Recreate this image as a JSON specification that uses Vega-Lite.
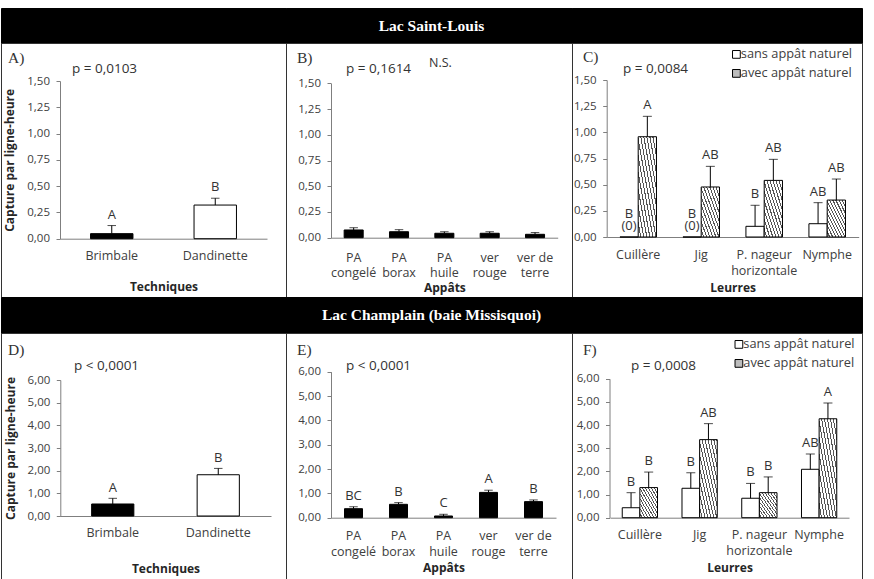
{
  "$schema": "https://vega.github.io/schema/vega-lite/v6.json",
  "padding": {"left": 0, "top": 7, "right": 0, "bottom": 0},
  "background": "white",
  "columns": 3,
  "spacing": 0,
  "bounds": "flush",
  "resolve": {"scale": {"fill": "independent", "xOffset": "independent"}, "legend": {"fill": "independent"}},
  "datasets": {
    "A": [
      {"cat": "Brimbale", "val": 0.048, "err": 0.125, "let": "A"},
      {"cat": "Dandinette", "val": 0.32, "err": 0.385, "let": "B"}
    ],
    "B": [
      {"cat": "PA congelé", "val": 0.075, "err": 0.097},
      {"cat": "PA borax", "val": 0.058, "err": 0.078},
      {"cat": "PA huile", "val": 0.043, "err": 0.058},
      {"cat": "ver rouge", "val": 0.043, "err": 0.058},
      {"cat": "ver de terre", "val": 0.033, "err": 0.05}
    ],
    "C": [
      {"cat": "Cuillère", "grp": "sans appât naturel", "val": 0, "err": 0, "let": ["(0)", "B"]},
      {"cat": "Cuillère", "grp": "avec appât naturel", "val": 0.958, "err": 1.153, "let": "A"},
      {"cat": "Jig", "grp": "sans appât naturel", "val": 0, "err": 0, "let": ["(0)", "B"]},
      {"cat": "Jig", "grp": "avec appât naturel", "val": 0.478, "err": 0.675, "let": "AB"},
      {"cat": "P. nageur horizontale", "grp": "sans appât naturel", "val": 0.102, "err": 0.303, "let": "B"},
      {"cat": "P. nageur horizontale", "grp": "avec appât naturel", "val": 0.541, "err": 0.742, "let": "AB"},
      {"cat": "Nymphe", "grp": "sans appât naturel", "val": 0.127, "err": 0.328, "let": "AB"},
      {"cat": "Nymphe", "grp": "avec appât naturel", "val": 0.353, "err": 0.554, "let": "AB"}
    ],
    "D": [
      {"cat": "Brimbale", "val": 0.53, "err": 0.78, "let": "A"},
      {"cat": "Dandinette", "val": 1.82, "err": 2.1, "let": "B"}
    ],
    "E": [
      {"cat": "PA congelé", "val": 0.37, "err": 0.45, "let": "BC"},
      {"cat": "PA borax", "val": 0.55, "err": 0.62, "let": "B"},
      {"cat": "PA huile", "val": 0.07, "err": 0.14, "let": "C"},
      {"cat": "ver rouge", "val": 1.04, "err": 1.13, "let": "A"},
      {"cat": "ver de terre", "val": 0.66, "err": 0.73, "let": "B"}
    ],
    "F": [
      {"cat": "Cuillère", "grp": "sans appât naturel", "val": 0.43, "err": 1.08, "let": "B"},
      {"cat": "Cuillère", "grp": "avec appât naturel", "val": 1.3, "err": 1.97, "let": "B"},
      {"cat": "Jig", "grp": "sans appât naturel", "val": 1.27, "err": 1.94, "let": "B"},
      {"cat": "Jig", "grp": "avec appât naturel", "val": 3.37, "err": 4.06, "let": "AB"},
      {"cat": "P. nageur horizontale", "grp": "sans appât naturel", "val": 0.84, "err": 1.48, "let": "B"},
      {"cat": "P. nageur horizontale", "grp": "avec appât naturel", "val": 1.08, "err": 1.76, "let": "B"},
      {"cat": "Nymphe", "grp": "sans appât naturel", "val": 2.09, "err": 2.75, "let": "AB"},
      {"cat": "Nymphe", "grp": "avec appât naturel", "val": 4.27, "err": 4.95, "let": "A"}
    ]
  },
  "concat": [
    {
      "width": 285, "height": 35,
      "view": {"fill": "black", "stroke": "black"},
      "data": {"values": [{"t": ""}]},
      "mark": {"type": "text", "color": "white"},
      "encoding": {"text": {"field": "t"}}
    },
    {
      "width": 286, "height": 35,
      "view": {"fill": "black", "stroke": "black"},
      "data": {"values": [{"t": "Lac Saint-Louis"}]},
      "mark": {"type": "text", "color": "white", "font": "Liberation Serif", "fontWeight": "bold", "fontSize": 15.5, "dx": 2.5},
      "encoding": {"text": {"field": "t"}}
    },
    {
      "width": 290, "height": 35,
      "view": {"fill": "black", "stroke": "black"},
      "data": {"values": [{"t": ""}]},
      "mark": {"type": "text", "color": "white"},
      "encoding": {"text": {"field": "t"}}
    },
    {
      "width": 285, "height": 254,
      "data": {"name": "A"},
      "encoding": {"x": {"field": "cat", "type": "nominal", "sort": null,
        "scale": {"range": [59, 266], "paddingInner": 0.59, "paddingOuter": 0.295},
        "axis": {"title": "Techniques", "offset": -58.3, "labelPadding": 10.9, "titlePadding": 19.6,
          "labelExpr": "datum.value == 'ver de terre' ? ['ver de','terre'] : datum.value == 'P. nageur horizontale' ? ['P. nageur','horizontale'] : split(datum.value, ' ')"}}},
      "layer": [
        {"mark": {"type": "bar", "stroke": "black", "strokeWidth": 1},
         "encoding": {
           "y": {"field": "val", "type": "quantitative", "scale": {"domain": [0, 1.5], "range": [195.7, 38], "nice": false},
             "axis": {"title": "Capture par ligne-heure", "values": [0, 0.25, 0.5, 0.75, 1, 1.25, 1.5], "offset": -59, "titlePadding": 10,
               "labelExpr": "replace(format(datum.value, '.2f'), '.', ',')"}},
           "fill": {"field": "cat", "type": "nominal", "scale": {"domain": ["Brimbale", "Dandinette"], "range": ["black", "white"]}, "legend": null}}},
        {"transform": [{"filter": "datum.err > datum.val"}], "mark": {"type": "rule", "color": "black"},
         "encoding": {"y": {"field": "val", "type": "quantitative"}, "y2": {"field": "err"}}},
        {"transform": [{"filter": "datum.err > datum.val"}], "mark": {"type": "tick", "color": "black", "size": 8.5, "thickness": 1},
         "encoding": {"y": {"field": "err", "type": "quantitative"}}},
        {"mark": {"type": "text", "baseline": "bottom", "dy": -4, "fontSize": 13, "color": "#333"},
         "encoding": {"y": {"field": "err", "type": "quantitative"}, "text": {"field": "let"}}},
        {"data": {"values": [{"t": "A)"}]}, "mark": {"type": "text", "align": "left", "baseline": "middle", "dx": -103.75, "font": "Liberation Serif", "fontSize": 15.5, "color": "#333"},
         "encoding": {"x": {"datum": "Brimbale"}, "y": {"datum": 1.723}, "text": {"field": "t"}}},
        {"data": {"values": [{"t": "p = 0,0103"}]}, "mark": {"type": "text", "align": "left", "baseline": "middle", "dx": -39.75, "fontSize": 13.5, "color": "#333"},
         "encoding": {"x": {"datum": "Brimbale"}, "y": {"datum": 1.614}, "text": {"field": "t"}}}
      ]
    },
    {
      "width": 286, "height": 254,
      "data": {"name": "B"},
      "encoding": {"x": {"field": "cat", "type": "nominal", "sort": null,
        "scale": {"range": [45, 271.7], "paddingInner": 0.58, "paddingOuter": 0.29},
        "axis": {"title": "Appâts", "offset": -59.3, "labelPadding": 13.4, "titlePadding": 3.2, "labelLineHeight": 15.7,
          "labelExpr": "datum.value == 'ver de terre' ? ['ver de','terre'] : datum.value == 'P. nageur horizontale' ? ['P. nageur','horizontale'] : split(datum.value, ' ')"}}},
      "layer": [
        {"mark": {"type": "bar", "fill": "black", "stroke": "black", "strokeWidth": 1},
         "encoding": {
           "y": {"field": "val", "type": "quantitative", "scale": {"domain": [0, 1.5], "range": [194.7, 40.3], "nice": false},
             "axis": {"title": null, "values": [0, 0.25, 0.5, 0.75, 1, 1.25, 1.5], "offset": -45,
               "labelExpr": "replace(format(datum.value, '.2f'), '.', ',')"}}}},
        {"transform": [{"filter": "datum.err > datum.val"}], "mark": {"type": "rule", "color": "black"},
         "encoding": {"y": {"field": "val", "type": "quantitative"}, "y2": {"field": "err"}}},
        {"transform": [{"filter": "datum.err > datum.val"}], "mark": {"type": "tick", "color": "black", "size": 8.5, "thickness": 1},
         "encoding": {"y": {"field": "err", "type": "quantitative"}}},
        {"data": {"values": [{"t": "B)"}]}, "mark": {"type": "text", "align": "left", "baseline": "middle", "dx": -56.67, "font": "Liberation Serif", "fontSize": 15.5, "color": "#333"},
         "encoding": {"x": {"datum": "PA congelé"}, "y": {"datum": 1.749}, "text": {"field": "t"}}},
        {"data": {"values": [{"t": "p = 0,1614"}]}, "mark": {"type": "text", "align": "left", "baseline": "middle", "dx": -7.67, "fontSize": 13.5, "color": "#333"},
         "encoding": {"x": {"datum": "PA congelé"}, "y": {"datum": 1.636}, "text": {"field": "t"}}},
        {"data": {"values": [{"t": "N.S."}]}, "mark": {"type": "text", "align": "left", "baseline": "middle", "dx": 75.3, "fontSize": 12.5, "color": "#333"},
         "encoding": {"x": {"datum": "PA congelé"}, "y": {"datum": 1.7}, "text": {"field": "t"}}}
      ]
    },
    {
      "width": 290, "height": 254,
      "data": {"name": "C"},
      "encoding": {"x": {"field": "cat", "type": "nominal", "sort": null,
        "scale": {"range": [34.7, 286.7], "paddingInner": 0.42, "paddingOuter": 0.21},
        "axis": {"title": "Leurres", "offset": -60, "labelPadding": 11.9, "titlePadding": 4.9, "labelLineHeight": 15.7,
          "labelExpr": "datum.value == 'ver de terre' ? ['ver de','terre'] : datum.value == 'P. nageur horizontale' ? ['P. nageur','horizontale'] : split(datum.value, ' ')"}}},
      "layer": [
        {"mark": {"type": "bar", "stroke": "black", "strokeWidth": 1},
         "encoding": {
           "xOffset": {"field": "grp", "type": "nominal", "scale": {"domain": ["sans appât naturel", "avec appât naturel"], "paddingInner": 0, "paddingOuter": 0}},
           "y": {"field": "val", "type": "quantitative", "scale": {"domain": [0, 1.5], "range": [194, 37], "nice": false},
             "axis": {"title": null, "values": [0, 0.25, 0.5, 0.75, 1, 1.25, 1.5], "offset": -34.7,
               "labelExpr": "replace(format(datum.value, '.2f'), '.', ',')"}},
           "fill": {"field": "grp", "type": "nominal", "scale": {"domain": ["sans appât naturel", "avec appât naturel"], "range": ["white", "#bdbdbd"]},
             "condition": {"test": "datum.grp === 'avec appât naturel'", "value": {"gradient": "linear", "x1": 0, "y1": 1, "x2": 1, "y2": 0, "stops": [
               {"offset": 0, "color": "white"}, {"offset": 0.0542, "color": "white"}, {"offset": 0.0542, "color": "#555"}, {"offset": 0.0833, "color": "#555"},
               {"offset": 0.0833, "color": "white"}, {"offset": 0.1375, "color": "white"}, {"offset": 0.1375, "color": "#555"}, {"offset": 0.1667, "color": "#555"},
               {"offset": 0.1667, "color": "white"}, {"offset": 0.2208, "color": "white"}, {"offset": 0.2208, "color": "#555"}, {"offset": 0.25, "color": "#555"},
               {"offset": 0.25, "color": "white"}, {"offset": 0.3042, "color": "white"}, {"offset": 0.3042, "color": "#555"}, {"offset": 0.3333, "color": "#555"},
               {"offset": 0.3333, "color": "white"}, {"offset": 0.3875, "color": "white"}, {"offset": 0.3875, "color": "#555"}, {"offset": 0.4167, "color": "#555"},
               {"offset": 0.4167, "color": "white"}, {"offset": 0.4708, "color": "white"}, {"offset": 0.4708, "color": "#555"}, {"offset": 0.5, "color": "#555"},
               {"offset": 0.5, "color": "white"}, {"offset": 0.5542, "color": "white"}, {"offset": 0.5542, "color": "#555"}, {"offset": 0.5833, "color": "#555"},
               {"offset": 0.5833, "color": "white"}, {"offset": 0.6375, "color": "white"}, {"offset": 0.6375, "color": "#555"}, {"offset": 0.6667, "color": "#555"},
               {"offset": 0.6667, "color": "white"}, {"offset": 0.7208, "color": "white"}, {"offset": 0.7208, "color": "#555"}, {"offset": 0.75, "color": "#555"},
               {"offset": 0.75, "color": "white"}, {"offset": 0.8042, "color": "white"}, {"offset": 0.8042, "color": "#555"}, {"offset": 0.8333, "color": "#555"},
               {"offset": 0.8333, "color": "white"}, {"offset": 0.8875, "color": "white"}, {"offset": 0.8875, "color": "#555"}, {"offset": 0.9167, "color": "#555"},
               {"offset": 0.9167, "color": "white"}, {"offset": 0.9708, "color": "white"}, {"offset": 0.9708, "color": "#555"}, {"offset": 1, "color": "#555"}]}},
             "legend": {"title": null, "orient": "none", "legendX": 158, "legendY": 5, "symbolType": "square", "symbolSize": 60, "symbolStrokeColor": "black", "symbolStrokeWidth": 1, "labelFont": "Open Sans", "labelFontSize": 12.8, "labelColor": "#404040", "rowPadding": 5, "labelOffset": -2, "padding": 0}}}},
        {"transform": [{"filter": "datum.err > datum.val"}], "mark": {"type": "rule", "color": "black"},
         "encoding": {"xOffset": {"field": "grp", "type": "nominal"}, "y": {"field": "val", "type": "quantitative"}, "y2": {"field": "err"}}},
        {"transform": [{"filter": "datum.err > datum.val"}], "mark": {"type": "tick", "color": "black", "size": 9, "thickness": 1},
         "encoding": {"xOffset": {"field": "grp", "type": "nominal"}, "y": {"field": "err", "type": "quantitative"}}},
        {"mark": {"type": "text", "baseline": "bottom", "dy": -4, "fontSize": 13, "color": "#333", "lineHeight": -12.5},
         "encoding": {"xOffset": {"field": "grp", "type": "nominal"}, "y": {"field": "err", "type": "quantitative"}, "text": {"field": "let"}}},
        {"data": {"values": [{"t": "C)"}]}, "mark": {"type": "text", "align": "left", "baseline": "middle", "dx": -55.2, "font": "Liberation Serif", "fontSize": 15.5, "color": "#333"},
         "encoding": {"x": {"datum": "Cuillère"}, "y": {"datum": 1.715}, "text": {"field": "t"}}},
        {"data": {"values": [{"t": "p = 0,0084"}]}, "mark": {"type": "text", "align": "left", "baseline": "middle", "dx": -15.2, "fontSize": 13.5, "color": "#333"},
         "encoding": {"x": {"datum": "Cuillère"}, "y": {"datum": 1.605}, "text": {"field": "t"}}}
      ]
    },
    {
      "width": 285, "height": 36,
      "view": {"fill": "black", "stroke": "black"},
      "data": {"values": [{"t": ""}]},
      "mark": {"type": "text", "color": "white"},
      "encoding": {"text": {"field": "t"}}
    },
    {
      "width": 286, "height": 36,
      "view": {"fill": "black", "stroke": "black"},
      "data": {"values": [{"t": "Lac Champlain (baie Missisquoi)"}]},
      "mark": {"type": "text", "color": "white", "font": "Liberation Serif", "fontWeight": "bold", "fontSize": 15.5, "dx": 2.5},
      "encoding": {"text": {"field": "t"}}
    },
    {
      "width": 290, "height": 36,
      "view": {"fill": "black", "stroke": "black"},
      "data": {"values": [{"t": ""}]},
      "mark": {"type": "text", "color": "white"},
      "encoding": {"text": {"field": "t"}}
    },
    {
      "width": 285, "height": 247,
      "data": {"name": "D"},
      "encoding": {"x": {"field": "cat", "type": "nominal", "sort": null,
        "scale": {"range": [59, 270], "paddingInner": 0.6, "paddingOuter": 0.3},
        "axis": {"title": "Techniques", "offset": -64, "labelPadding": 10.3, "titlePadding": 24.3,
          "labelExpr": "datum.value == 'ver de terre' ? ['ver de','terre'] : datum.value == 'P. nageur horizontale' ? ['P. nageur','horizontale'] : split(datum.value, ' ')"}}},
      "layer": [
        {"mark": {"type": "bar", "stroke": "black", "strokeWidth": 1},
         "encoding": {
           "y": {"field": "val", "type": "quantitative", "scale": {"domain": [0, 6], "range": [183, 47], "nice": false},
             "axis": {"title": "Capture par ligne-heure", "values": [0, 1, 2, 3, 4, 5, 6], "offset": -59.3, "titlePadding": 10,
               "labelExpr": "replace(format(datum.value, '.2f'), '.', ',')"}},
           "fill": {"field": "cat", "type": "nominal", "scale": {"domain": ["Brimbale", "Dandinette"], "range": ["black", "white"]}, "legend": null}}},
        {"transform": [{"filter": "datum.err > datum.val"}], "mark": {"type": "rule", "color": "black"},
         "encoding": {"y": {"field": "val", "type": "quantitative"}, "y2": {"field": "err"}}},
        {"transform": [{"filter": "datum.err > datum.val"}], "mark": {"type": "tick", "color": "black", "size": 8.5, "thickness": 1},
         "encoding": {"y": {"field": "err", "type": "quantitative"}}},
        {"mark": {"type": "text", "baseline": "bottom", "dy": -3, "fontSize": 13, "color": "#333"},
         "encoding": {"y": {"field": "err", "type": "quantitative"}, "text": {"field": "let"}}},
        {"data": {"values": [{"t": "D)"}]}, "mark": {"type": "text", "align": "left", "baseline": "middle", "dx": -104.75, "font": "Liberation Serif", "fontSize": 15.5, "color": "#333"},
         "encoding": {"x": {"datum": "Brimbale"}, "y": {"datum": 7.32}, "text": {"field": "t"}}},
        {"data": {"values": [{"t": "p < 0,0001"}]}, "mark": {"type": "text", "align": "left", "baseline": "middle", "dx": -38.75, "fontSize": 13.5, "color": "#333"},
         "encoding": {"x": {"datum": "Brimbale"}, "y": {"datum": 6.62}, "text": {"field": "t"}}}
      ]
    },
    {
      "width": 286, "height": 247,
      "data": {"name": "E"},
      "encoding": {"x": {"field": "cat", "type": "nominal", "sort": null,
        "scale": {"range": [45, 270], "paddingInner": 0.6, "paddingOuter": 0.3},
        "axis": {"title": "Appâts", "offset": -62.3, "labelPadding": 11.9, "titlePadding": 4.5, "labelLineHeight": 16,
          "labelExpr": "datum.value == 'ver de terre' ? ['ver de','terre'] : datum.value == 'P. nageur horizontale' ? ['P. nageur','horizontale'] : split(datum.value, ' ')"}}},
      "layer": [
        {"mark": {"type": "bar", "fill": "black", "stroke": "black", "strokeWidth": 1},
         "encoding": {
           "y": {"field": "val", "type": "quantitative", "scale": {"domain": [0, 6], "range": [184.7, 38.7], "nice": false},
             "axis": {"title": null, "values": [0, 1, 2, 3, 4, 5, 6], "offset": -45,
               "labelExpr": "replace(format(datum.value, '.2f'), '.', ',')"}}}},
        {"transform": [{"filter": "datum.err > datum.val"}], "mark": {"type": "rule", "color": "black"},
         "encoding": {"y": {"field": "val", "type": "quantitative"}, "y2": {"field": "err"}}},
        {"transform": [{"filter": "datum.err > datum.val"}], "mark": {"type": "tick", "color": "black", "size": 8.5, "thickness": 1},
         "encoding": {"y": {"field": "err", "type": "quantitative"}}},
        {"mark": {"type": "text", "baseline": "bottom", "dy": -4, "fontSize": 13, "color": "#333"},
         "encoding": {"y": {"field": "err", "type": "quantitative"}, "text": {"field": "let"}}},
        {"data": {"values": [{"t": "E)"}]}, "mark": {"type": "text", "align": "left", "baseline": "middle", "dx": -56.5, "font": "Liberation Serif", "fontSize": 15.5, "color": "#333"},
         "encoding": {"x": {"datum": "PA congelé"}, "y": {"datum": 6.89}, "text": {"field": "t"}}},
        {"data": {"values": [{"t": "p < 0,0001"}]}, "mark": {"type": "text", "align": "left", "baseline": "middle", "dx": -7.5, "fontSize": 13.5, "color": "#333"},
         "encoding": {"x": {"datum": "PA congelé"}, "y": {"datum": 6.23}, "text": {"field": "t"}}}
      ]
    },
    {
      "width": 290, "height": 247,
      "data": {"name": "F"},
      "encoding": {"x": {"field": "cat", "type": "nominal", "sort": null,
        "scale": {"range": [38, 277], "paddingInner": 0.41, "paddingOuter": 0.205},
        "axis": {"title": "Leurres", "offset": -62.3, "labelPadding": 10.9, "titlePadding": 4.9, "labelLineHeight": 16,
          "labelExpr": "datum.value == 'ver de terre' ? ['ver de','terre'] : datum.value == 'P. nageur horizontale' ? ['P. nageur','horizontale'] : split(datum.value, ' ')"}}},
      "layer": [
        {"mark": {"type": "bar", "stroke": "black", "strokeWidth": 1},
         "encoding": {
           "xOffset": {"field": "grp", "type": "nominal", "scale": {"domain": ["sans appât naturel", "avec appât naturel"], "paddingInner": 0, "paddingOuter": 0}},
           "y": {"field": "val", "type": "quantitative", "scale": {"domain": [0, 6], "range": [184.7, 45.7], "nice": false},
             "axis": {"title": null, "values": [0, 1, 2, 3, 4, 5, 6], "offset": -37.5,
               "labelExpr": "replace(format(datum.value, '.2f'), '.', ',')"}},
           "fill": {"field": "grp", "type": "nominal", "scale": {"domain": ["sans appât naturel", "avec appât naturel"], "range": ["white", "#bdbdbd"]},
             "condition": {"test": "datum.grp === 'avec appât naturel'", "value": {"gradient": "linear", "x1": 0, "y1": 1, "x2": 1, "y2": 0, "stops": [
               {"offset": 0, "color": "white"}, {"offset": 0.0542, "color": "white"}, {"offset": 0.0542, "color": "#555"}, {"offset": 0.0833, "color": "#555"},
               {"offset": 0.0833, "color": "white"}, {"offset": 0.1375, "color": "white"}, {"offset": 0.1375, "color": "#555"}, {"offset": 0.1667, "color": "#555"},
               {"offset": 0.1667, "color": "white"}, {"offset": 0.2208, "color": "white"}, {"offset": 0.2208, "color": "#555"}, {"offset": 0.25, "color": "#555"},
               {"offset": 0.25, "color": "white"}, {"offset": 0.3042, "color": "white"}, {"offset": 0.3042, "color": "#555"}, {"offset": 0.3333, "color": "#555"},
               {"offset": 0.3333, "color": "white"}, {"offset": 0.3875, "color": "white"}, {"offset": 0.3875, "color": "#555"}, {"offset": 0.4167, "color": "#555"},
               {"offset": 0.4167, "color": "white"}, {"offset": 0.4708, "color": "white"}, {"offset": 0.4708, "color": "#555"}, {"offset": 0.5, "color": "#555"},
               {"offset": 0.5, "color": "white"}, {"offset": 0.5542, "color": "white"}, {"offset": 0.5542, "color": "#555"}, {"offset": 0.5833, "color": "#555"},
               {"offset": 0.5833, "color": "white"}, {"offset": 0.6375, "color": "white"}, {"offset": 0.6375, "color": "#555"}, {"offset": 0.6667, "color": "#555"},
               {"offset": 0.6667, "color": "white"}, {"offset": 0.7208, "color": "white"}, {"offset": 0.7208, "color": "#555"}, {"offset": 0.75, "color": "#555"},
               {"offset": 0.75, "color": "white"}, {"offset": 0.8042, "color": "white"}, {"offset": 0.8042, "color": "#555"}, {"offset": 0.8333, "color": "#555"},
               {"offset": 0.8333, "color": "white"}, {"offset": 0.8875, "color": "white"}, {"offset": 0.8875, "color": "#555"}, {"offset": 0.9167, "color": "#555"},
               {"offset": 0.9167, "color": "white"}, {"offset": 0.9708, "color": "white"}, {"offset": 0.9708, "color": "#555"}, {"offset": 1, "color": "#555"}]}},
             "legend": {"title": null, "orient": "none", "legendX": 160.5, "legendY": 5, "symbolType": "square", "symbolSize": 60, "symbolStrokeColor": "black", "symbolStrokeWidth": 1, "labelFont": "Open Sans", "labelFontSize": 12.8, "labelColor": "#404040", "rowPadding": 5, "labelOffset": -2, "padding": 0}}}},
        {"transform": [{"filter": "datum.err > datum.val"}], "mark": {"type": "rule", "color": "black"},
         "encoding": {"xOffset": {"field": "grp", "type": "nominal"}, "y": {"field": "val", "type": "quantitative"}, "y2": {"field": "err"}}},
        {"transform": [{"filter": "datum.err > datum.val"}], "mark": {"type": "tick", "color": "black", "size": 9, "thickness": 1},
         "encoding": {"xOffset": {"field": "grp", "type": "nominal"}, "y": {"field": "err", "type": "quantitative"}}},
        {"mark": {"type": "text", "baseline": "bottom", "dy": -4, "fontSize": 13, "color": "#333"},
         "encoding": {"xOffset": {"field": "grp", "type": "nominal"}, "y": {"field": "err", "type": "quantitative"}, "text": {"field": "let"}}},
        {"data": {"values": [{"t": "F)"}]}, "mark": {"type": "text", "align": "left", "baseline": "middle", "dx": -56.9, "font": "Liberation Serif", "fontSize": 15.5, "color": "#333"},
         "encoding": {"x": {"datum": "Cuillère"}, "y": {"datum": 7.24}, "text": {"field": "t"}}},
        {"data": {"values": [{"t": "p = 0,0008"}]}, "mark": {"type": "text", "align": "left", "baseline": "middle", "dx": -8.9, "fontSize": 13.5, "color": "#333"},
         "encoding": {"x": {"datum": "Cuillère"}, "y": {"datum": 6.55}, "text": {"field": "t"}}}
      ]
    }
  ],
  "config": {
    "view": {"stroke": "#333", "strokeWidth": 1},
    "text": {"font": "Open Sans"},
    "axis": {"labelFont": "Open Sans", "titleFont": "Open Sans", "labelColor": "#404040", "titleColor": "#262626", "titleFontWeight": "bold", "grid": false, "domainColor": "#7f7f7f", "tickColor": "#7f7f7f", "labelOverlap": false},
    "axisX": {"ticks": false, "tickSize": 0, "labelAngle": 0, "labelFontSize": 12.5, "titleFontSize": 12},
    "axisY": {"tickSize": 4, "labelFontSize": 11.5, "labelPadding": 6.5, "titleFontSize": 12}
  }
}
